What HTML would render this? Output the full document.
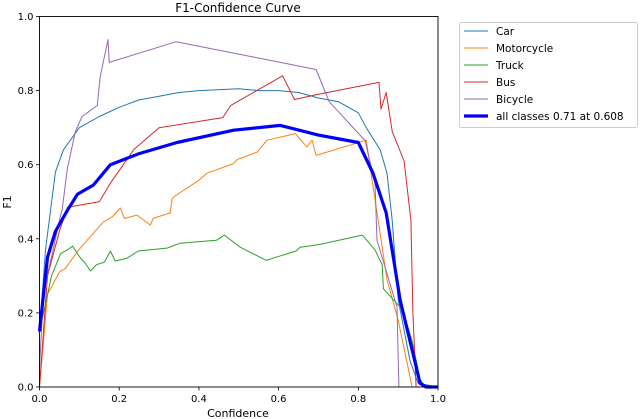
<!DOCTYPE html>
<html><head><meta charset="utf-8">
<style>
body{margin:0;background:#fff;}
svg{display:block;font-family:"DejaVu Sans","Liberation Sans",sans-serif;}
</style></head>
<body>
<svg id="chart" width="640" height="419" viewBox="0 0 640 419">
<text x="238" y="12" text-anchor="middle" font-size="12">F1-Confidence Curve</text>
<text x="238" y="417" text-anchor="middle" font-size="11">Confidence</text>
<text transform="translate(11,202) rotate(-90)" text-anchor="middle" font-size="11">F1</text>
<g id="ticks"></g>
<g id="series"></g>
<rect x="39.5" y="16.5" width="398.5" height="370.5" fill="none" stroke="#000" stroke-width="0.9"/>
<g id="legend"></g>
</svg>
<script>
const xTicks=[0,0.2,0.4,0.6,0.8,1.0];
const yTicks=[0,0.2,0.4,0.6,0.8,1.0];
const seriesNames=["Car","Motorcycle","Truck","Bus","Bicycle","all classes 0.71 at 0.608"];
const seriesColors=["#1f77b4","#ff7f0e","#2ca02c","#d62728","#9467bd","#0000ff"];
const carX=[0,0.015,0.04,0.06,0.1,0.15,0.2,0.25,0.3,0.35,0.4,0.5,0.55,0.6,0.65,0.7,0.75,0.8,0.82,0.855,0.872,0.885,0.9,0.93,0.95,1.0];
const carY=[0.15,0.37,0.58,0.64,0.7,0.73,0.755,0.775,0.785,0.795,0.8,0.805,0.8,0.8,0.795,0.78,0.77,0.74,0.70,0.64,0.577,0.45,0.235,0.07,0.01,0];
const motoX=[0,0.02,0.05,0.065,0.098,0.16,0.183,0.203,0.213,0.245,0.278,0.285,0.328,0.333,0.353,0.4,0.42,0.487,0.496,0.546,0.571,0.642,0.671,0.684,0.694,0.82,0.83,0.85,0.872,0.9,0.935,0.94,1.0];
const motoY=[0,0.25,0.31,0.32,0.37,0.445,0.46,0.483,0.455,0.464,0.437,0.455,0.47,0.51,0.525,0.558,0.577,0.603,0.614,0.634,0.666,0.684,0.648,0.666,0.625,0.666,0.59,0.45,0.29,0.18,0.0,0,0];
const truckX=[0,0.03,0.053,0.07,0.083,0.095,0.103,0.113,0.128,0.143,0.163,0.178,0.19,0.22,0.248,0.32,0.353,0.444,0.464,0.504,0.569,0.644,0.654,0.704,0.81,0.842,0.86,0.863,0.91,0.935,0.955,0.97,1.0];
const truckY=[0.15,0.3,0.36,0.37,0.38,0.36,0.348,0.337,0.313,0.33,0.337,0.367,0.34,0.348,0.367,0.375,0.388,0.396,0.41,0.377,0.342,0.367,0.377,0.385,0.41,0.37,0.33,0.265,0.21,0.125,0.02,0,0];
const busX=[0,0.02,0.05,0.07,0.15,0.178,0.236,0.3,0.46,0.48,0.61,0.64,0.7,0.852,0.857,0.87,0.885,0.915,0.932,0.937,0.945,1.0];
const busY=[0,0.3,0.42,0.485,0.5,0.55,0.64,0.7,0.727,0.76,0.84,0.776,0.79,0.822,0.75,0.795,0.69,0.61,0.45,0.2,0,0];
const bikeX=[0,0.01,0.03,0.05,0.057,0.07,0.09,0.107,0.145,0.152,0.172,0.175,0.343,0.694,0.727,0.817,0.842,0.847,0.897,0.902,1.0];
const bikeY=[0.05,0.26,0.35,0.45,0.48,0.59,0.69,0.73,0.76,0.836,0.938,0.876,0.932,0.857,0.77,0.665,0.55,0.396,0.216,0,0];
const allX=[0,0.02,0.04,0.07,0.095,0.135,0.178,0.25,0.345,0.487,0.604,0.7,0.8,0.837,0.87,0.905,0.935,0.955,0.97,1.0];
const allY=[0.15,0.35,0.42,0.477,0.52,0.545,0.6,0.63,0.66,0.693,0.706,0.68,0.66,0.577,0.47,0.235,0.1,0.01,0,0];

const NS="http://www.w3.org/2000/svg";
const X0=39.5,X1=438,Y0=387,Y1=16.5;
function sx(c){return X0+c*(X1-X0);}
function sy(f){return Y0-f*(Y0-Y1);}
const ticks=document.getElementById('ticks');
xTicks.forEach(t=>{
  const l=document.createElementNS(NS,'line');
  l.setAttribute('x1',sx(t));l.setAttribute('x2',sx(t));l.setAttribute('y1',Y0);l.setAttribute('y2',Y0+3.5);l.setAttribute('stroke','#000');l.setAttribute('stroke-width','0.8');
  
  
  ticks.appendChild(l);
  const tx=document.createElementNS(NS,'text');
  tx.setAttribute('x',sx(t));tx.setAttribute('y',Y0+15);tx.setAttribute('text-anchor','middle');tx.setAttribute('font-size','10');
  tx.textContent=t.toFixed(1);
  
  
  ticks.appendChild(tx);
});
yTicks.forEach(t=>{
  const l=document.createElementNS(NS,'line');
  l.setAttribute('x1',X0-3.5);l.setAttribute('x2',X0);l.setAttribute('y1',sy(t));l.setAttribute('y2',sy(t));l.setAttribute('stroke','#000');l.setAttribute('stroke-width','0.8');
  
  
  ticks.appendChild(l);
  const tx=document.createElementNS(NS,'text');
  tx.setAttribute('x',X0-6);tx.setAttribute('y',sy(t)+3.5);tx.setAttribute('text-anchor','end');tx.setAttribute('font-size','10');
  tx.textContent=t.toFixed(1);
  
  
  ticks.appendChild(tx);
});
const data=[[carX,carY],[motoX,motoY],[truckX,truckY],[busX,busY],[bikeX,bikeY],[allX,allY]];
const sg=document.getElementById('series');
const slugs=["car","motorcycle","truck","bus","bicycle","all-classes"];
data.forEach((d,i)=>{
  const p=document.createElementNS(NS,'polyline');
  p.setAttribute('points',d[0].map((c,j)=>sx(c).toFixed(1)+','+sy(d[1][j]).toFixed(1)).join(' '));
  p.setAttribute('fill','none');p.setAttribute('stroke',seriesColors[i]);
  p.setAttribute('stroke-width',i===5?3.2:1);p.setAttribute('stroke-linejoin','round');
  
  
  sg.appendChild(p);
});
const lg=document.getElementById('legend');
const box=document.createElementNS(NS,'rect');
box.setAttribute('x',459.5);box.setAttribute('y',22.5);box.setAttribute('width',178);box.setAttribute('height',105);box.setAttribute('rx',2);
box.setAttribute('fill','#fff');box.setAttribute('stroke','#ccc');


lg.appendChild(box);
seriesNames.forEach((n,i)=>{
  const y=31+i*17;
  const l=document.createElementNS(NS,'line');
  l.setAttribute('x1',464);l.setAttribute('x2',488);l.setAttribute('y1',y);l.setAttribute('y2',y);
  l.setAttribute('stroke',seriesColors[i]);l.setAttribute('stroke-width',i===5?3.2:1);
  
  
  lg.appendChild(l);
  const t=document.createElementNS(NS,'text');
  t.setAttribute('x',496);t.setAttribute('y',y+4);t.setAttribute('font-size','10.5');
  t.textContent=n;
  
  
  lg.appendChild(t);
});
</script>
</body></html>
